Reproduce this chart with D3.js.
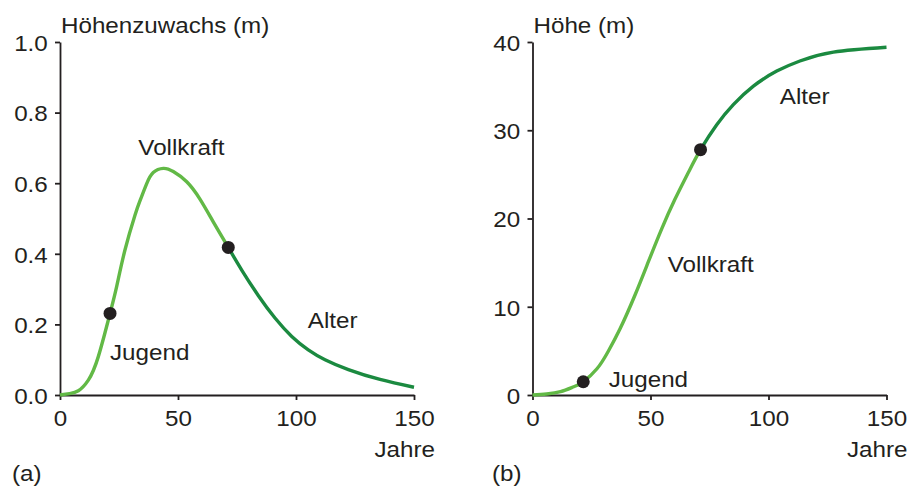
<!DOCTYPE html>
<html>
<head>
<meta charset="utf-8">
<script src="https://cdn.jsdelivr.net/npm/d3@7"></script>
<style>
  html, body { margin: 0; padding: 0; background: #fff; }
  svg { display: block; }
  text { font-family: "Liberation Sans", Arial, Helvetica, sans-serif; fill: #231f20; }
</style>
</head>
<body>
<svg id="chart" width="909" height="491"></svg>
<script>
// ---- Data: (a) annual height increment, (b) cumulative height ----
const years = [0, 50, 100, 150];

const incrementYears = [0, 4, 7.8, 12, 16.2, 21.2, 24, 27.5, 31.8, 34, 36.7, 39.5, 43.8, 48, 53.7, 59.3, 65, 71.3, 77, 84, 91.1, 98.2, 105.2, 112.3, 122.2, 135.6, 150];
const incrementValues = [0, 0.004, 0.012, 0.042, 0.108, 0.231, 0.307, 0.41, 0.51, 0.552, 0.598, 0.630, 0.642, 0.633, 0.604, 0.555, 0.49, 0.418, 0.354, 0.282, 0.218, 0.166, 0.128, 0.100, 0.072, 0.044, 0.022];
const incrementTicks = [0, 0.2, 0.4, 0.6, 0.8, 1.0];
const incrementMarkers = [[21.2, 0.231], [71.3, 0.418]];

const heightYears = [0, 6, 11.9, 17.5, 21.5, 27.4, 32, 37.1, 43.4, 49.1, 54.7, 60.4, 66.2, 71.2, 78, 85.1, 93.6, 103.5, 113.3, 127.5, 150];
const heightValues = [0, 0.12, 0.38, 0.94, 1.5, 3.0, 4.9, 7.5, 11.3, 15.1, 18.8, 22.2, 25.3, 27.8, 30.6, 32.9, 35.0, 36.7, 37.85, 38.85, 39.4];
const heightTicks = [0, 10, 20, 30, 40];
const heightMarkers = [[21.5, 1.5], [71.2, 27.8]];

// Phase boundary: youth/full vigour drawn light, old age drawn dark
const phaseSplit = [71.3, 71.2];

// Phase labels, anchored in data units of each panel
const incrementLabels = [
  { text: "Vollkraft", year: 33.2, value: 0.68 },
  { text: "Jugend", year: 21.2, value: 0.10 },
  { text: "Alter", year: 105, value: 0.19 }
];
const heightLabels = [
  { text: "Alter", year: 104.8, value: 32.98 },
  { text: "Vollkraft", year: 57.3, value: 13.9 },
  { text: "Jugend", year: 32.3, value: 0.94 }
];

// ---- Drawing ----
const svg = d3.select("#chart");
const defs = svg.append("defs");
const INK = "#231f20";
const LIGHT = "#62b946";
const DARK = "#1b8a40";
const FONT = 22;
const STRETCH = "scale(1.1,1)";

function label(g, x, y, text, anchor) {
  g.append("text")
    .attr("transform", `translate(${x},${y}) ${STRETCH}`)
    .attr("text-anchor", anchor || "start")
    .style("font-size", FONT + "px")
    .text(text);
}

function panel(opts) {
  const g = svg.append("g");
  const x = d3.scaleLinear().domain([0, 150]).range(opts.xRange);
  const y = d3.scaleLinear().domain(opts.yDomain).range([395, 42]);

  const pts = opts.xs.map((v, i) => [v, opts.ys[i]]);
  const line = d3.line().x(d => x(d[0])).y(d => y(d[1])).curve(d3.curveNatural);

  // axes
  const xAxis = d3.axisBottom(x).tickValues(years).tickSize(5).tickSizeOuter(0).tickPadding(10).tickFormat(d3.format("d"));
  const yAxis = d3.axisLeft(y).tickValues(opts.ticks).tickSize(5).tickSizeOuter(0).tickPadding(7).tickFormat(opts.fmt);

  const gx = g.append("g").attr("transform", "translate(0,395)").call(xAxis);
  const gy = g.append("g").attr("transform", `translate(${opts.xRange[0]},0)`).call(yAxis);
  [gx, gy].forEach(a => {
    a.select(".domain").attr("stroke", INK).attr("stroke-width", 1.8);
    a.selectAll(".tick line").attr("stroke", INK).attr("stroke-width", 1.8);
    a.selectAll(".tick text")
      .style("font-size", FONT + "px")
      .style("font-family", "'Liberation Sans', Arial, sans-serif")
      .attr("fill", INK);
  });
  gx.selectAll(".tick text").attr("transform", STRETCH).attr("x", 0);
  gy.selectAll(".tick text").attr("transform", STRETCH).attr("x", -12 / 1.1 - 0.2).attr("dy", "0.38em");

  // one continuous curve, coloured light before the phase boundary and dark after it
  const xs = x(opts.split);
  const idA = opts.id + "-early", idB = opts.id + "-late";
  defs.append("clipPath").attr("id", idA).append("rect")
    .attr("x", 0).attr("y", 0).attr("width", xs).attr("height", 491);
  defs.append("clipPath").attr("id", idB).append("rect")
    .attr("x", xs).attr("y", 0).attr("width", 909 - xs).attr("height", 491);
  g.append("path").datum(pts).attr("d", line).attr("clip-path", `url(#${idA})`)
    .attr("fill", "none").attr("stroke", LIGHT).attr("stroke-width", 3.4);
  g.append("path").datum(pts).attr("d", line).attr("clip-path", `url(#${idB})`)
    .attr("fill", "none").attr("stroke", DARK).attr("stroke-width", 3.4);

  // phase boundary markers
  g.selectAll("circle.marker").data(opts.markers).enter().append("circle")
    .attr("class", "marker")
    .attr("cx", d => x(d[0])).attr("cy", d => y(d[1])).attr("r", 6.5)
    .attr("fill", INK);

  // phase labels
  opts.labels.forEach(l => label(g, x(l.year), y(l.value), l.text));

  // axis titles and panel tag
  label(g, opts.xRange[0] + 1, 33.3, opts.title);
  label(g, opts.xRange[1] + 21, 456.7, "Jahre", "end");
  label(g, opts.tagX, 481, opts.tag);
}

panel({
  id: "zuwachs",
  xRange: [60, 414],
  yDomain: [0, 1],
  xs: incrementYears, ys: incrementValues,
  split: phaseSplit[0],
  ticks: incrementTicks, fmt: d3.format(".1f"),
  markers: incrementMarkers,
  labels: incrementLabels,
  title: "Höhenzuwachs (m)",
  tag: "(a)", tagX: 12
});

panel({
  id: "hoehe",
  xRange: [532.5, 886.5],
  yDomain: [0, 40],
  xs: heightYears, ys: heightValues,
  split: phaseSplit[1],
  ticks: heightTicks, fmt: d3.format("d"),
  markers: heightMarkers,
  labels: heightLabels,
  title: "Höhe (m)",
  tag: "(b)", tagX: 492
});
</script>
</body>
</html>
